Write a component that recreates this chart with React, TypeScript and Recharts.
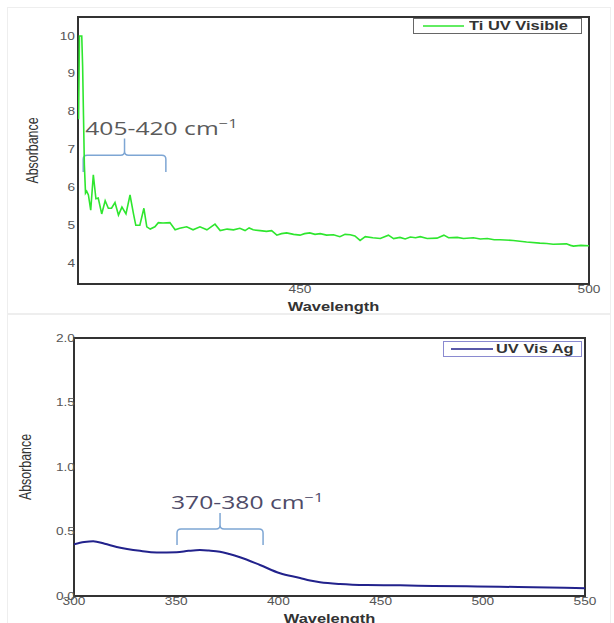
import { LineChart, Line, XAxis, YAxis, ReferenceArea, Legend } from "recharts";

// Ti spectrum (top panel)
const tiWavelength = [
  411.7, 411.85, 412.25, 412.4, 412.55, 412.7, 412.9, 413.1, 413.4, 413.8, 414.25, 414.7, 415.1, 415.7,
  416.3, 416.85, 417.4, 418.0, 418.6, 419.2, 419.9, 420.6, 421.2, 421.6, 422.3, 423.0, 423.5, 424.1,
  424.9, 425.5, 426.3, 427.5, 428.4, 429.2, 430.4, 431.5, 432.7, 433.9, 435.3, 436.2, 437.4, 438.5,
  439.6, 440.5, 441.2, 441.9, 443.1, 444.2, 445.1, 446.0, 446.8, 447.7, 448.9, 450.0, 450.8, 451.7,
  452.6, 453.5, 454.6, 455.8, 456.9, 457.8, 458.7, 459.5, 460.4, 461.3, 462.6, 463.9, 465.3, 466.2,
  467.3, 468.2, 469.1, 470.0, 470.8, 472.0, 473.7, 474.9, 475.7, 477.2, 478.3, 480.0, 481.2, 482.4,
  483.6, 484.6, 486.9, 489.2, 491.5, 492.7, 493.8, 496.1, 496.8, 497.3, 498.6, 500.0,
];
const tiAbsorbance = [
  7.8, 10.0, 10.0, 9.2, 7.9, 6.6, 5.85, 5.9, 5.8, 5.4, 6.33, 5.7, 5.72, 5.3,
  5.65, 5.45, 5.45, 5.6, 5.27, 5.48, 5.3, 5.8, 5.3, 5.0, 5.0, 5.45, 4.96, 4.9,
  4.96, 5.07, 5.06, 5.07, 4.88, 4.92, 4.96, 4.88, 4.96, 4.88, 5.03, 4.86, 4.9, 4.88,
  4.92, 4.86, 4.93, 4.88, 4.86, 4.84, 4.86, 4.74, 4.78, 4.8, 4.76, 4.74, 4.78, 4.8,
  4.76, 4.78, 4.74, 4.75, 4.7, 4.76, 4.75, 4.72, 4.6, 4.7, 4.67, 4.65, 4.74, 4.65,
  4.68, 4.64, 4.69, 4.67, 4.7, 4.65, 4.66, 4.74, 4.67, 4.68, 4.65, 4.67, 4.64, 4.65,
  4.62, 4.62, 4.6, 4.56, 4.53, 4.52, 4.5, 4.51, 4.47, 4.45, 4.47, 4.46,
];

// Ag spectrum (bottom panel)
const agWavelength = [
  300, 305, 309.4, 315, 320.9, 332.3, 340.5, 350.2, 356, 361.6, 366, 371.4, 376, 381.2,
  391, 400.8, 410.6, 415.5, 420.4, 430.1, 443.2, 459.5, 475.7, 492.1, 508.4, 524.6, 540, 550,
];
const agAbsorbance = [
  0.4, 0.418, 0.425, 0.405, 0.38, 0.35, 0.338, 0.34, 0.35, 0.356, 0.352, 0.343, 0.325, 0.3,
  0.24, 0.176, 0.14, 0.12, 0.107, 0.093, 0.085, 0.083, 0.078, 0.075, 0.072, 0.067, 0.063, 0.06,
];

const tiXTicks = [450, 500];
const tiYTicks = [4, 5, 6, 7, 8, 9, 10];
const agXTicks = [300, 350, 400, 450, 500, 550];
const agYTicks = [0, 0.5, 1.0, 1.5, 2.0];

const tiData = tiWavelength.map((wl, i) => ({ wl, abs: tiAbsorbance[i] }));
const agData = agWavelength.map((wl, i) => ({ wl, abs: agAbsorbance[i] }));

const SX = 1.37; // the source image is stretched horizontally
const SANS = "'Liberation Sans', Arial, sans-serif";

function XTick({ x, y, payload }: any) {
  return (
    <g transform={`translate(${x},${y + 9}) scale(${SX},1)`}>
      <text textAnchor="middle" fontSize={10} fill="#555" fontFamily={SANS}>
        {payload.value}
      </text>
    </g>
  );
}

function makeYTick(dx: number, fmt: (v: number) => string) {
  return ({ x, y, payload }: any) => (
    <g transform={`translate(${x + dx},${y + 3.6}) scale(${SX},1)`}>
      <text textAnchor="end" fontSize={10} fill="#555" fontFamily={SANS}>
        {fmt(payload.value)}
      </text>
    </g>
  );
}

function XTitle({ viewBox }: any) {
  const { x, y, width } = viewBox;
  return (
    <g transform={`translate(${x + width / 2},${y + 26.5}) scale(${SX},1)`}>
      <text textAnchor="middle" fontSize={12} fontWeight={700} fill="#333" fontFamily={SANS}>
        Wavelength
      </text>
    </g>
  );
}

function makeYTitle(fromAxis: number) {
  return ({ viewBox }: any) => {
    const { x, y, width, height } = viewBox;
    return (
      <g transform={`translate(${x + width - fromAxis},${y + height / 2}) scale(${SX},1) rotate(-90)`}>
        <text textAnchor="middle" dy="0.35em" fontSize={12.4} fill="#333" fontFamily={SANS}>
          Absorbance
        </text>
      </g>
    );
  };
}

function makeBrace(text: string, textDx: number, textColor: string) {
  return ({ x, y, width: w, height: h }: any) => {
    const mid = y + h / 2;
    const cx = x + w / 2;
    const r = 4;
    const d = [
      `M${x},${y + h}`,
      `L${x},${mid + r}`,
      `Q${x},${mid} ${x + r},${mid}`,
      `L${cx - r},${mid}`,
      `Q${cx},${mid} ${cx},${mid - r}`,
      `L${cx},${y}`,
      `M${cx},${mid - r}`,
      `Q${cx},${mid} ${cx + r},${mid}`,
      `L${x + w - r},${mid}`,
      `Q${x + w},${mid} ${x + w},${mid + r}`,
      `L${x + w},${y + h}`,
    ].join(" ");
    return (
      <g>
        <path d={d} fill="none" stroke="#7ea6d4" strokeWidth={1.5} />
        <g transform={`translate(${x + textDx},${y - 4}) scale(${SX},1)`}>
          <text fontSize={18} fill={textColor} fontFamily="'Open Sans', sans-serif">
            {text} cm
            <tspan fontSize={12} dy={-7}>
              −1
            </tspan>
          </text>
        </g>
      </g>
    );
  };
}

function makeLegend(width: number, border: string, lineFrom: number, lineTo: number, textLeft: number) {
  return ({ payload }: any) => {
    const item = payload && payload[0];
    if (!item) return null;
    return (
      <div
        style={{
          position: "relative",
          boxSizing: "border-box",
          width,
          height: 16,
          border: `1px solid ${border}`,
          background: "#fff",
        }}
      >
        <svg width={width} height={14} style={{ position: "absolute", left: 0, top: 0 }}>
          <line x1={lineFrom} x2={lineTo} y1={7} y2={7} stroke={item.color} strokeWidth={1.5} />
        </svg>
        <span
          style={{
            position: "absolute",
            left: textLeft,
            top: 0,
            lineHeight: "14px",
            fontFamily: SANS,
            fontWeight: 700,
            fontSize: 12,
            color: "#333",
            whiteSpace: "nowrap",
            transform: `scaleX(${SX})`,
            transformOrigin: "left center",
          }}
        >
          {item.value}
        </span>
      </div>
    );
  };
}

const panelBox = { position: "absolute" as const, border: "1px solid #eeeeee", boxSizing: "border-box" as const };

export default function App() {
  return (
    <div style={{ position: "absolute", left: 0, top: 0, width: 614, height: 623, background: "#fff", overflow: "hidden" }}>
      <div style={{ ...panelBox, left: 7, top: 7, width: 604, height: 307 }} />
      <div style={{ ...panelBox, left: 7, top: 314, width: 604, height: 320 }} />

      <div style={{ position: "absolute", left: 0, top: 0 }}>
        <LineChart width={614} height={318} data={tiData} margin={{ top: 17, right: 25, left: 0, bottom: 6 }}>
          <XAxis
            type="number"
            dataKey="wl"
            domain={[411.6, 500]}
            ticks={tiXTicks}
            interval={0}
            allowDataOverflow
            axisLine={false}
            tickLine={false}
            tickSize={0}
            tickMargin={0}
            height={28}
            tick={<XTick />}
            label={{ content: XTitle }}
          />
          <YAxis
            type="number"
            domain={[3.45, 10.5]}
            ticks={tiYTicks}
            interval={0}
            allowDataOverflow
            axisLine={false}
            tickLine={false}
            tickSize={0}
            tickMargin={0}
            width={78}
            tick={makeYTick(-3, (v) => String(v))}
            label={{ content: makeYTitle(45.5) }}
          />
          <ReferenceArea x1={411.6} x2={500} y1={3.45} y2={10.5} fill="none" stroke="#333" strokeWidth={2} ifOverflow="visible" />
          <ReferenceArea
            x1={412.5}
            x2={426.8}
            y1={6.41}
            y2={7.29}
            ifOverflow="visible"
            shape={makeBrace("405-420", 2, "#5a5a5a")}
          />
          <Legend
            layout="vertical"
            align="center"
            verticalAlign="middle"
            wrapperStyle={{ left: 413, top: 18, width: 169, height: 16 }}
            content={makeLegend(169, "#666", 9, 50, 55)}
          />
          <Line
            name="Ti UV Visible"
            type="linear"
            dataKey="abs"
            stroke="#2ee62e"
            strokeWidth={1.6}
            dot={false}
            isAnimationActive={false}
          />
        </LineChart>
      </div>

      <div style={{ position: "absolute", left: 0, top: 310 }}>
        <LineChart width={614} height={313} data={agData} margin={{ top: 28, right: 29, left: 0, bottom: 0 }}>
          <XAxis
            type="number"
            dataKey="wl"
            domain={[300, 550]}
            ticks={agXTicks}
            interval={0}
            allowDataOverflow
            axisLine={false}
            tickLine={false}
            tickSize={0}
            tickMargin={0}
            height={27}
            tick={<XTick />}
            label={{ content: XTitle }}
          />
          <YAxis
            type="number"
            domain={[0, 2]}
            ticks={agYTicks}
            interval={0}
            allowDataOverflow
            axisLine={false}
            tickLine={false}
            tickSize={0}
            tickMargin={0}
            width={74}
            tick={makeYTick(1, (v) => v.toFixed(1))}
            label={{ content: makeYTitle(48.5) }}
          />
          <ReferenceArea x1={300} x2={550} y1={0} y2={2} fill="none" stroke="#333" strokeWidth={2} ifOverflow="visible" />
          <ReferenceArea
            x1={350.4}
            x2={392.5}
            y1={0.395}
            y2={0.643}
            ifOverflow="visible"
            shape={makeBrace("370-380", -6, "#4e4b68")}
          />
          <Legend
            layout="vertical"
            align="center"
            verticalAlign="middle"
            wrapperStyle={{ left: 443, top: 31, width: 139, height: 16 }}
            content={makeLegend(139, "#8a8ad0", 7, 49, 52)}
          />
          <Line
            name="UV Vis Ag"
            type="monotone"
            dataKey="abs"
            stroke="#22228c"
            strokeWidth={2}
            dot={false}
            isAnimationActive={false}
          />
        </LineChart>
      </div>
    </div>
  );
}
